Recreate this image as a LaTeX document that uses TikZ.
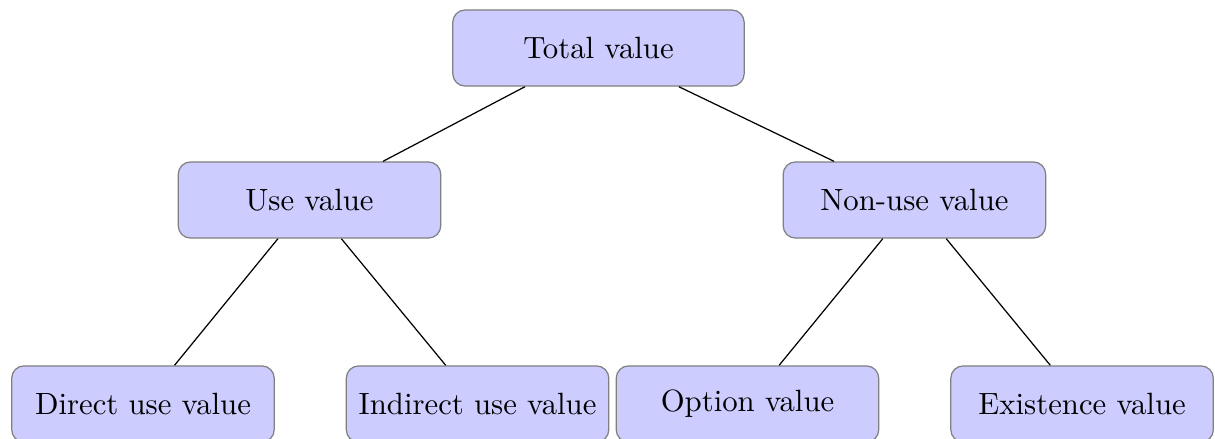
\documentclass[tikz,border=0pt]{standalone}
\usetikzlibrary{positioning}

\tikzset{
  valuebox/.style={rectangle, rounded corners, draw=black!50, fill=blue!20,
    minimum width=3cm, minimum height=0.87cm, inner sep=0pt},
}

\begin{document}
\begin{tikzpicture}[]
  \useasboundingbox (0,0) rectangle (13.886,-5.017);
  % Define the nodes
  \node (total) [valuebox, minimum width=3.33cm] at (6.84,-0.549) {Total value};
  \node (use) [valuebox] at (3.537,-2.286) {Use value};
  \node (nonuse) [valuebox] at (10.451,-2.286) {Non-use value};
  \node (direct) [valuebox] at (1.634,-4.617) {Direct use value};
  \node (indirect) [valuebox, right=0.81cm of direct] {Indirect use value};
  \node (option) [valuebox] at (8.543,-4.617) {Option value};
  \node (existence) [valuebox, right=0.81cm of option] {Existence value};
  % Connect the nodes
  \draw (total) -- (use);
  \draw (total) -- (nonuse);
  \draw (use) -- (direct);
  \draw (use) -- (indirect);
  \draw (nonuse) -- (option);
  \draw (nonuse) -- (existence);
\end{tikzpicture}
\end{document}
